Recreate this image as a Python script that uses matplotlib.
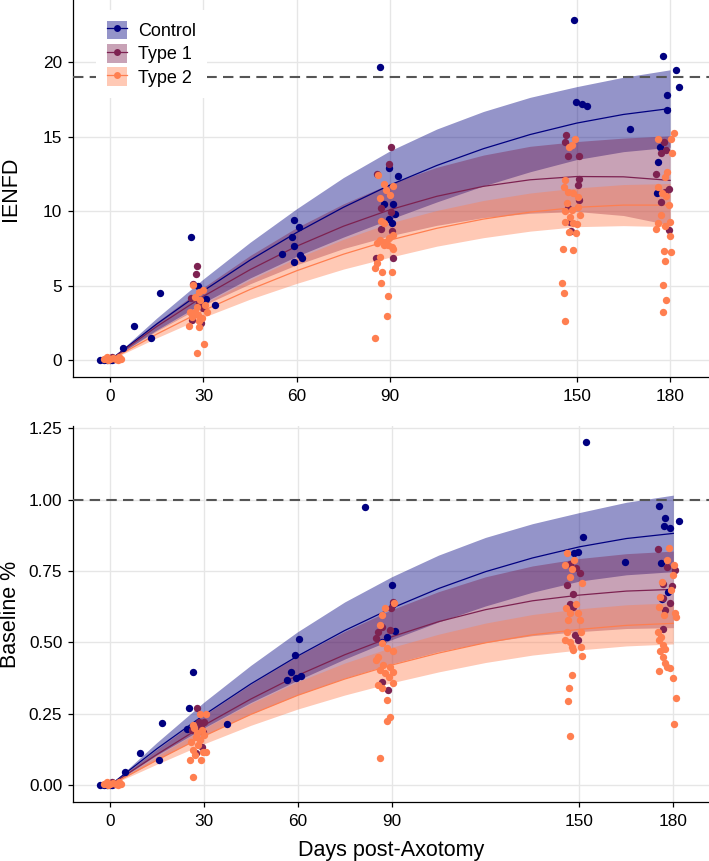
import matplotlib
matplotlib.use("Agg")
import matplotlib.pyplot as plt
from matplotlib.patches import Patch
from matplotlib.lines import Line2D

plt.rcParams['font.family'] = ['Liberation Sans', 'DejaVu Sans']

# ---------------- data ----------------
groups = ["Control", "Type 1", "Type 2"]
colors = ["#000080", "#7D2251", "#FF7F50"]
xticks = [0, 30, 60, 90, 150, 180]
top_yticks = [0, 5, 10, 15, 20]
bot_yticks = [0.00, 0.25, 0.50, 0.75, 1.00, 1.25]
bot_yticklabels = ["0.00", "0.25", "0.50", "0.75", "1.00", "1.25"]
top_ref = 19.0
bot_ref = 1.0

# IENFD observations
ienfd_ctrl_day = [-3.2, -2, -1, 0, 0.5, 4.3, 7.8, 13.1, 15.9, 26.1, 28.3, 28.9, 30.9, 33.8,
                  55.3, 58.5, 59.0, 60.8, 59.2, 59.0, 61.0, 61.7,
                  86.8, 89.5, 92.4, 87.9, 91.1, 91.6, 89.8, 90.6,
                  149.0, 149.7, 151.6, 153.2, 167.1,
                  177.6, 181.8, 183.0, 179.0, 179.0, 176.2, 176.6, 175.8]
ienfd_ctrl_val = [0, 0, 0, 0, 0, 0.79, 2.3, 1.5, 4.5, 8.25, 5.0, 3.92, 4.08, 3.7,
                  7.12, 8.27, 9.39, 8.94, 7.64, 6.61, 7.03, 6.83,
                  19.7, 12.9, 12.37, 10.48, 10.46, 9.79, 9.5, 9.23,
                  22.85, 17.36, 17.18, 17.07, 15.52,
                  20.45, 19.49, 18.37, 17.81, 16.8, 13.33, 14.29, 11.2]

ienfd_t1_day = [-1, 0.5, 1.5, 3,
                27.9, 27.6, 26.8, 26.5, 29.2, 28.7, 30, 25.9,
                90.2, 89.8, 85.9, 87.1, 90.2, 90.5, 87.1, 85.5, 91.1,
                146.6, 146.3, 147.1, 150.8, 150.8, 150.3, 150.8, 147.3, 147.9, 148.2,
                178.1, 177.1, 175.5, 179.5, 178.4, 177.0, 179.5, 178.6]
ienfd_t1_val = [0.1, 0.2, 0.1, 0.15,
                6.32, 5.78, 5.1, 2.69, 2.46, 3.81, 3.47, 4.19,
                14.29, 13.15, 12.48, 10.19, 9.92, 8.69, 8.8, 6.88, 6.88,
                15.12, 14.67, 13.73, 13.73, 12.16, 11.74, 10.75, 10.24, 9.3, 8.67,
                14.67, 13.88, 12.47, 11.47, 11.3, 10.6, 8.74, 14.1]

ienfd_t2_day = [-2, -1, 0, 1, 2, 3, 3.5, 2.5, -0.5,
                26.8, 30, 28.5, 27.3, 28.9, 25.7, 27.3, 28.4, 31.1, 30.5, 26.3, 28.6, 25.4,
                28.7, 30.2, 27.9, 27.9, 29.5,
                86.2, 88.2, 91.1, 88.7, 90, 86.8, 87, 87.9, 86.8, 85.7, 87.9, 89.3, 90.5,
                91.1, 88.5, 86.8, 85.7, 85.2, 87.3, 90.5, 87.1, 89.3, 88.9, 85.2, 91.1, 89.5,
                149.5, 148.4, 147.5, 146.3, 146, 147.3, 148.9, 150.3, 146.8, 150.5, 148.4,
                146.3, 147.9, 151.1, 146.3, 148.9, 150, 147.5, 149.7, 145.7, 148.9, 145.4,
                146, 146.3,
                181.1, 180.3, 176.2, 180.7, 179, 178.2, 176.2, 178.6, 179.5, 177.1, 180,
                176.2, 175.5, 178.2, 180, 178.1, 180.3, 178.2, 177.6, 178.7, 177.6, 177.5]
ienfd_t2_val = [0.1, 0.2, 0.05, 0.15, 0.1, 0.2, 0.05, 0.0, 0.0,
                5.04, 4.7, 4.55, 4.26, 4.03, 3.25, 3.25, 3.02, 3.25, 3.7, 2.91, 2.64, 2.3,
                2.24, 1.05, 0.49, 3.58, 2.8,
                12.4, 11.83, 11.69, 11.42, 11.09, 10.91, 9.34, 9.23, 8.06, 7.84, 7.7, 7.7, 7.6,
                7.44, 7.9, 6.94, 6.5, 6.16, 5.94, 5.94, 5.2, 4.32, 2.98, 1.5, 8.4, 8.2,
                14.83, 14.45, 14.34, 12.1, 11.65, 11.31, 11.2, 10.98, 10.53, 10.3, 10.08,
                10.01, 9.63, 9.74, 9.29, 9.23, 9.14, 8.58, 8.51, 7.44, 7.39, 5.15,
                4.48, 2.64,
                15.23, 14.83, 14.83, 13.93, 12.66, 12.32, 11.65, 11.02, 10.42, 9.74, 9.3,
                9.18, 8.78, 9.0, 8.33, 7.35, 7.28, 6.68, 5.04, 4.03, 3.25, 11.2]

# Baseline % observations
base_ctrl_day = [-3.2, -2, -1, 0, 0.5, 4.7, 9.5, 15.7, 16.6, 26.6, 25.2, 24.7, 37.5,
                 60.4, 59.2, 57.7, 56.7, 59.4, 61.0,
                 81.5, 90.0, 88.4, 91.1, 87.0, 90.5,
                 152.1, 151.0, 149.4, 148.2, 164.6,
                 175.5, 177.4, 177.1, 179.0, 181.9, 176.1, 178.4, 176.3]
base_ctrl_val = [0, 0, 0, 0, 0, 0.045, 0.112, 0.089, 0.217, 0.398, 0.27, 0.196, 0.215,
                 0.511, 0.455, 0.398, 0.368, 0.375, 0.382,
                 0.976, 0.701, 0.518, 0.54, 0.503, 0.634,
                 1.201, 0.87, 0.816, 0.812, 0.781,
                 0.979, 0.937, 0.909, 0.902, 0.925, 0.777, 0.676, 0.651]

base_t1_day = [-1, 0.5, 1.5, 3,
               27.7, 28.5, 30, 26.1, 29.8, 27.5, 29.4, 29.1,
               85, 85.7, 86.8, 89.5, 90.5, 87, 88.7, 89.8,
               147, 148.8, 150.2, 145.9, 147.8, 147, 148, 148.6, 149.6,
               175.2, 177.9, 180.5, 176.8, 179.5, 176.8, 178.8, 177.2, 176.8]
base_t1_val = [0.005, 0.01, 0.005, 0.008,
               0.27, 0.223, 0.223, 0.194, 0.188, 0.112, 0.135, 0.205,
               0.515, 0.538, 0.555, 0.544, 0.643, 0.363, 0.334, 0.62,
               0.774, 0.762, 0.742, 0.701, 0.67, 0.634, 0.626, 0.526, 0.509,
               0.827, 0.763, 0.754, 0.704, 0.698, 0.657, 0.637, 0.614, 0.547]

base_t2_day = [-2, -1, 0, 1, 2, 3, 3.5, 2.5, -0.5,
               26.4, 28.8, 30.6, 27.4, 25.8, 28.8, 26.6, 29.8, 30.6, 25.5, 29.1, 26.6,
               27.7, 29.3, 28.2, 27.2, 30.2, 26.9,
               90.8, 87.9, 86.3, 86.8, 88.4, 90.5, 85.6, 85.1, 87.3, 89.5, 86.3, 90.5,
               87.9, 89, 85.6, 86.8, 90.5, 88.4, 89.5, 88.4, 86.3, 86.8,
               145.9, 145.5, 147.6, 147, 150.7, 145.6, 147, 148.8, 149.4, 146.4, 150.2,
               145.9, 150.5, 145.5, 147, 147.6, 150.5, 148.1, 150.7, 147.6, 146.6, 146.4,
               147, 148.2,
               178.6, 178.1, 180.3, 180, 176.4, 179.2, 175.7, 175.4, 180.5, 181, 177,
               175.2, 176, 175.4, 176.8, 175.7, 177.5, 176.8, 177.5, 178.1, 175.4, 179,
               180, 181, 180.3]
base_t2_val = [0.005, 0.01, 0.003, 0.008, 0.005, 0.01, 0.004, 0.0, 0.0,
               0.211, 0.25, 0.25, 0.17, 0.153, 0.159, 0.124, 0.118, 0.118, 0.089, 0.089, 0.028,
               0.182, 0.194, 0.141, 0.105, 0.175, 0.2,
               0.637, 0.62, 0.561, 0.497, 0.48, 0.471, 0.45, 0.439, 0.421, 0.415, 0.404, 0.398,
               0.392, 0.38, 0.351, 0.34, 0.357, 0.299, 0.24, 0.226, 0.095, 0.596,
               0.812, 0.771, 0.756, 0.73, 0.709, 0.62, 0.602, 0.634, 0.602, 0.579, 0.579,
               0.538, 0.538, 0.509, 0.503, 0.485, 0.485, 0.474, 0.453, 0.386, 0.342, 0.295,
               0.173, 0.789,
               0.83, 0.789, 0.771, 0.736, 0.713, 0.684, 0.658, 0.625, 0.602, 0.59, 0.596,
               0.538, 0.52, 0.509, 0.491, 0.471, 0.476, 0.45, 0.427, 0.415, 0.401, 0.41,
               0.375, 0.305, 0.214]

# fitted curves and confidence bands
fit_days = [0, 15, 30, 45, 60, 75, 90, 105, 120, 135, 150, 165, 180]

ienfd_ctrl_fit = [0, 2.42, 4.65, 6.71, 8.57, 10.26, 11.76, 13.07, 14.20, 15.15, 15.92, 16.50, 16.90]
ienfd_ctrl_hi = [0, 2.82, 5.45, 7.91, 10.17, 12.26, 14.06, 15.52, 16.70, 17.65, 18.37, 19.00, 19.50]
ienfd_ctrl_lo = [0, 2.02, 3.85, 5.51, 6.97, 8.26, 9.46, 10.62, 11.70, 12.65, 13.47, 14.00, 14.30]
ienfd_t1_fit = [0, 2.25, 4.28, 6.07, 7.65, 8.99, 10.10, 11.00, 11.67, 12.11, 12.33, 12.31, 12.07]
ienfd_t1_hi = [0, 2.55, 4.88, 7.02, 8.90, 10.49, 11.85, 12.95, 13.77, 14.36, 14.68, 14.91, 15.07]
ienfd_t1_lo = [0, 1.95, 3.68, 5.12, 6.40, 7.49, 8.35, 9.05, 9.57, 9.86, 9.98, 9.71, 9.07]
ienfd_t2_fit = [0, 1.74, 3.32, 4.74, 6.00, 7.11, 8.06, 8.85, 9.47, 9.94, 10.26, 10.41, 10.41]
ienfd_t2_hi = [0, 1.99, 3.77, 5.39, 6.85, 8.11, 9.21, 10.05, 10.72, 11.22, 11.56, 11.79, 11.86]
ienfd_t2_lo = [0, 1.49, 2.87, 4.09, 5.15, 6.11, 6.91, 7.65, 8.22, 8.66, 8.96, 9.03, 8.96]

base_ctrl_fit = [0, 0.128, 0.246, 0.355, 0.453, 0.542, 0.620, 0.689, 0.748, 0.796, 0.835, 0.864, 0.882]
base_ctrl_hi = [0, 0.150, 0.291, 0.420, 0.538, 0.642, 0.730, 0.806, 0.868, 0.916, 0.955, 0.991, 1.016]
base_ctrl_lo = [0, 0.106, 0.201, 0.290, 0.368, 0.442, 0.510, 0.572, 0.628, 0.676, 0.715, 0.737, 0.748]
base_t1_fit = [0, 0.108, 0.210, 0.302, 0.385, 0.457, 0.520, 0.573, 0.615, 0.646, 0.666, 0.680, 0.686]
base_t1_hi = [0, 0.126, 0.245, 0.354, 0.453, 0.539, 0.615, 0.678, 0.730, 0.768, 0.794, 0.811, 0.820]
base_t1_lo = [0, 0.090, 0.175, 0.250, 0.317, 0.375, 0.425, 0.468, 0.500, 0.524, 0.538, 0.549, 0.552]
base_t2_fit = [0, 0.088, 0.172, 0.248, 0.315, 0.372, 0.421, 0.463, 0.499, 0.527, 0.546, 0.560, 0.567]
base_t2_hi = [0, 0.102, 0.199, 0.286, 0.363, 0.428, 0.483, 0.529, 0.568, 0.598, 0.618, 0.632, 0.639]
base_t2_lo = [0, 0.074, 0.145, 0.210, 0.267, 0.316, 0.359, 0.397, 0.430, 0.456, 0.474, 0.488, 0.495]

# ---------------- plotting ----------------
W, H = 709, 861
fig = plt.figure(figsize=(W / 100, H / 100), dpi=100)
ax_top = fig.add_axes([72.7 / W, 1 - 376.7 / H, 636.3 / W, 376.7 / H])
ax_bot = fig.add_axes([72.7 / W, 1 - 802.3 / H, 636.3 / W, (802.3 - 426) / H])

FILL_ALPHA = 0.42
GRID = "#e6e6e6"


def draw_panel(ax, obs, fits, ref, xlim, ylim, yticks, yticklabels, ylabel):
    for (lo, fit, hi), c in zip(fits, colors):
        ax.fill_between(fit_days, lo, hi, color=c, alpha=FILL_ALPHA, lw=0, zorder=1)
    for (lo, fit, hi), c in zip(fits, colors):
        ax.plot(fit_days, fit, color=c, lw=0.9, zorder=2)
    ax.axhline(ref, color="#555555", lw=1.5, ls=(0, (5, 3)), zorder=3)
    for (dx, dy), c in zip(obs, colors):
        ax.scatter(dx, dy, s=28, color=c, lw=0, zorder=4)
    ax.set_xlim(*xlim)
    ax.set_ylim(*ylim)
    ax.set_xticks(xticks)
    ax.set_yticks(yticks)
    ax.set_yticklabels(yticklabels)
    ax.grid(True, color=GRID, lw=1.0, zorder=0)
    ax.set_axisbelow(True)
    for s in ["top", "right"]:
        ax.spines[s].set_visible(False)
    for s in ["left", "bottom"]:
        ax.spines[s].set_linewidth(0.9)
        ax.spines[s].set_color("black")
    ax.tick_params(axis="both", direction="out", length=3.5, width=0.9,
                   colors="black", labelsize=12.4)
    ax.tick_params(axis="x", pad=5)
    ax.tick_params(axis="y", pad=4)
    ax.set_ylabel(ylabel, fontsize=15.5)
    ax.yaxis.set_label_coords(-0.082, 0.5)


draw_panel(ax_top,
           [(ienfd_ctrl_day, ienfd_ctrl_val), (ienfd_t1_day, ienfd_t1_val), (ienfd_t2_day, ienfd_t2_val)],
           [(ienfd_ctrl_lo, ienfd_ctrl_fit, ienfd_ctrl_hi),
            (ienfd_t1_lo, ienfd_t1_fit, ienfd_t1_hi),
            (ienfd_t2_lo, ienfd_t2_fit, ienfd_t2_hi)],
           top_ref, (-12.0, 192.5), (-1.12, 24.19), top_yticks, [str(v) for v in top_yticks], "IENFD")

draw_panel(ax_bot,
           [(base_ctrl_day, base_ctrl_val), (base_t1_day, base_t1_val), (base_t2_day, base_t2_val)],
           [(base_ctrl_lo, base_ctrl_fit, base_ctrl_hi),
            (base_t1_lo, base_t1_fit, base_t1_hi),
            (base_t2_lo, base_t2_fit, base_t2_hi)],
           bot_ref, (-11.9, 191.4), (-0.0595, 1.258), bot_yticks, bot_yticklabels, "Baseline %")

ax_bot.set_xlabel("Days post-Axotomy", fontsize=15.5, labelpad=7.5)

# legend
handles = []
for c in colors:
    p = Patch(facecolor=c, alpha=FILL_ALPHA, edgecolor="none")
    l = Line2D([], [], color=c, lw=0.9, marker="o", markersize=5, markeredgewidth=0)
    handles.append((p, l))
leg = ax_top.legend(handles, groups, loc="upper left", bbox_to_anchor=(0.0366, 0.9735),
                    frameon=True, fancybox=False, framealpha=1.0, edgecolor="none",
                    facecolor="white", fontsize=13, handlelength=1.1, handleheight=1.2,
                    handletextpad=0.65, labelspacing=0.22, borderpad=0.6, borderaxespad=0)
leg.set_zorder(10)

fig.savefig("out.png", dpi=100)
